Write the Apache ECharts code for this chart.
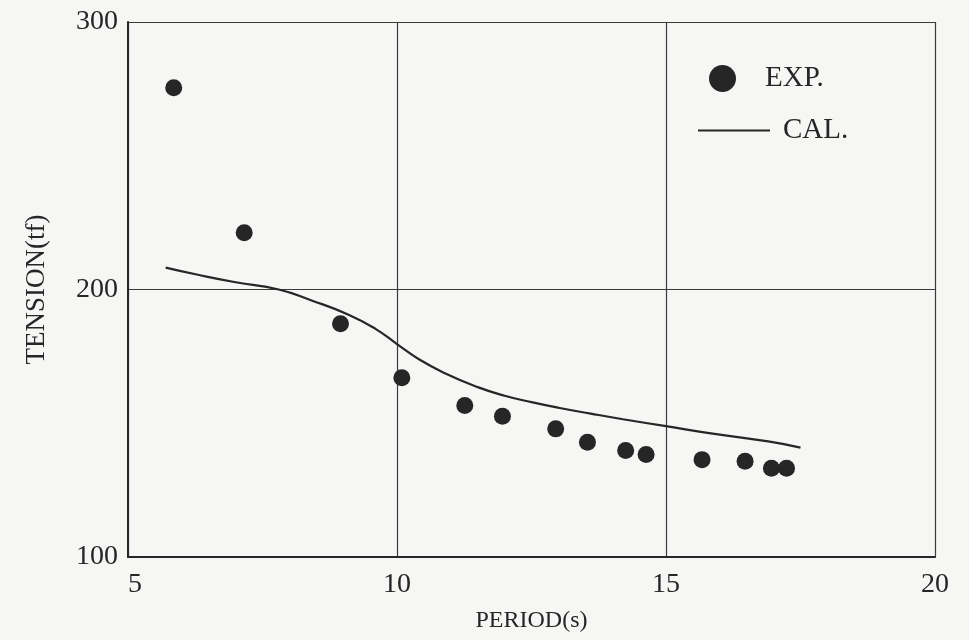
<!DOCTYPE html>
<html>
<head>
<meta charset="utf-8">
<script src="https://cdn.jsdelivr.net/npm/echarts@6/dist/echarts.min.js"></script>
<style>
  html, body { margin: 0; padding: 0; background: #f6f6f5; }
  #chart { width: 969px; height: 640px; }
</style>
</head>
<body>
<div id="chart"></div>
<script>
// Measured mooring-line tension versus wave period
const expPeriod  = [5.85, 7.16, 8.95, 10.09, 11.26, 11.96, 12.95, 13.54, 14.25, 14.63, 15.67, 16.47, 16.96, 17.24];
const expTension = [275.4, 221.2, 187.2, 167.0, 156.6, 152.6, 147.9, 142.9, 139.8, 138.3, 136.4, 135.8, 133.2, 133.2];

// Calculated tension curve
const calPeriod  = [5.7, 6.3, 7.0, 7.8, 8.4, 9.1, 9.6, 10.0, 10.4, 10.9, 11.5, 12.0, 12.5, 13.0, 13.6, 14.2, 15.0, 15.9, 16.9, 17.5];
const calTension = [208.2, 205.5, 202.7, 200.0, 196.0, 190.6, 185.3, 179.6, 174.0, 168.6, 163.5, 160.3, 157.9, 155.8, 153.6, 151.5, 148.9, 146.0, 143.2, 140.9];

// Axis ranges and ticks
const xTicks = [5, 10, 15, 20];
const yTicks = [100, 200, 300];

const ink = '#262626';
const serif = '"Liberation Serif", "DejaVu Serif", serif';

const chart = echarts.init(document.getElementById('chart'), null, { renderer: 'canvas' });

chart.setOption({
  backgroundColor: '#f6f6f5',
  animation: false,
  grid: { left: 128, right: 34, top: 22, bottom: 83 },
  xAxis: {
    type: 'value',
    min: xTicks[0],
    max: xTicks[xTicks.length - 1],
    interval: xTicks[1] - xTicks[0],
    name: 'PERIOD(s)',
    nameLocation: 'middle',
    nameGap: 52,
    nameTextStyle: { fontFamily: serif, fontSize: 24, color: ink },
    axisLine: { show: true, onZero: false, lineStyle: { color: ink, width: 2 } },
    axisTick: { show: false },
    axisLabel: {
      margin: 14,
      fontFamily: serif, fontSize: 28, color: ink,
      alignMinLabel: 'left'
    },
    splitLine: { show: true, lineStyle: { color: '#3a3a3a', width: 1.2 } }
  },
  yAxis: {
    type: 'value',
    min: yTicks[0],
    max: yTicks[yTicks.length - 1],
    interval: yTicks[1] - yTicks[0],
    name: 'TENSION(tf)',
    nameLocation: 'middle',
    nameGap: 78,
    nameRotate: 90,
    nameTextStyle: { fontFamily: serif, fontSize: 27, color: ink },
    axisLine: { show: true, onZero: false, lineStyle: { color: ink, width: 2 } },
    axisTick: { show: false },
    axisLabel: { margin: 10, fontFamily: serif, fontSize: 28, color: ink },
    splitLine: { show: true, lineStyle: { color: '#3a3a3a', width: 1.2 } }
  },
  legend: [
    {
      data: [{ name: 'EXP.', icon: 'circle' }],
      left: 704, top: 59,
      itemWidth: 27, itemHeight: 27,
      textStyle: { fontFamily: serif, fontSize: 29, color: ink, padding: [0, 0, 0, 24] }
    },
    {
      data: [{ name: 'CAL.', icon: 'rect' }],
      left: 693, top: 111,
      itemWidth: 72, itemHeight: 2,
      itemStyle: { color: ink },
      textStyle: { fontFamily: serif, fontSize: 29, color: ink, padding: [0, 0, 0, 8] }
    }
  ],
  series: [
    {
      name: 'CAL.',
      type: 'line',
      data: calPeriod.map((p, i) => [p, calTension[i]]),
      symbol: 'none',
      smooth: 0.5,
      lineStyle: { color: ink, width: 2.2 },
      itemStyle: { color: ink },
      z: 3
    },
    {
      name: 'EXP.',
      type: 'scatter',
      data: expPeriod.map((p, i) => [p, expTension[i]]),
      symbol: 'circle',
      symbolSize: 17,
      itemStyle: { color: '#262626', opacity: 1 },
      z: 4
    }
  ]
});
</script>
</body>
</html>
